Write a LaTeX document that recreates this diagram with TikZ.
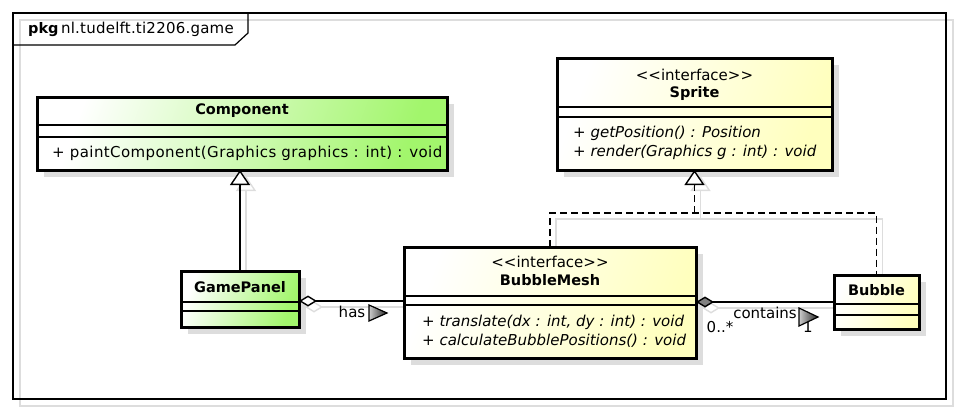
\documentclass[tikz,border=0pt]{standalone}
\usepackage{fontspec}
\setmainfont{DejaVu Sans}[Ligatures=TeXOff]
\usetikzlibrary{arrows.meta,calc}
\definecolor{umlgreen}{HTML}{A2F66C}
\definecolor{umlyellow}{HTML}{FFFFBE}
\definecolor{shadowgray}{HTML}{DDDDDD}
\definecolor{tipgray}{HTML}{808080}
\newcommand\classbox[6]{%
  \fill[shadowgray] ({#2+7},{#3+7}) rectangle ({#4+7},{#5+7});
  \node[boxstyle,#6,minimum width={#4-#2},minimum height={#5-#3}] (#1) at ({(#2+#4)/2},{(#3+#5)/2}) {};
}
\newcommand\bname[1]{{\fontsize{14.5}{19}\selectfont\bfseries #1}}
\begin{document}
\begin{tikzpicture}[x=1pt,y=-1pt,font=\fontsize{15}{19}\selectfont]
\tikzset{
  boxstyle/.style={draw=black,line width=3pt,inner sep=0pt,outer sep=0pt},
  greenfill/.style={shading=axis,top color=white,bottom color=umlgreen,shading angle=70},
  yellowfill/.style={shading=axis,top color=white,bottom color=umlyellow,shading angle=70},
  compline/.style={line width=1.3pt},
  connline/.style={line width=1.4pt},
  dashline/.style={line width=1.4pt,dash pattern=on 7pt off 4pt},
  shadowline/.style={shadowgray,line width=1.4pt},
  labtri/.style={draw=black,line width=1.2pt,left color=tipgray!40,right color=black!85},
  txt/.style={inner sep=0pt}
}
\useasboundingbox (0,0) rectangle (960,413);
% frame
\draw[shadowgray,line width=1.5pt] (20,20) rectangle (953,406);
\draw[line width=1.5pt] (13,13) rectangle (946,399);
\draw[line width=1.2pt] (13,45) -- (235,45) -- (248,33) -- (248,13);
\node[txt,anchor=west] (pkg) at (28,29) {\bname{pkg}\,\addfontfeature{LetterSpace=1.5}nl.tudelft.ti2206.game};

% coordinates for connector shadows
\coordinate (gptop) at (240,271);
\coordinate (bmtop) at (550,247);
\coordinate (bubtop) at (876.5,275);
\coordinate (rjs) at (694.5,213);
% connector shadows
\draw[shadowline,-{Triangle[open,length=15pt,width=20pt]}] ($(gptop)+(6,6)$) -- ($(240,170)+(6,6)$);
\draw[shadowline] ($(bmtop)+(6,6)$) |- ($(rjs)+(6,6)$) -| ($(bubtop)+(6,6)$);
\draw[shadowline,-{Triangle[open,length=15pt,width=20pt]}] ($(rjs)+(6,6)$) -- ($(694.5,170)+(6,6)$);
\draw[shadowline,{Diamond[open,length=18pt,width=11pt]}-] ($(299,301)+(6,6)$) -- ($(404,301)+(6,6)$);
\draw[shadowline,{Diamond[open,length=18pt,width=11pt]}-] ($(696,302)+(6,6)$) -- ($(834,302)+(6,6)$);

% classes
\classbox{comp}{37}{97}{447}{170}{greenfill}
\draw[compline] (comp.west |- 0,125) -- (comp.east |- 0,125);
\draw[compline] (comp.west |- 0,137) -- (comp.east |- 0,137);
\node[txt] (compname) at (242,111) {\bname{Component}};
\node[txt,anchor=west] (compm1) at (52,153) {\addfontfeature{LetterSpace=2.7}+ paintComponent(Graphics graphics : int) : void};

\classbox{sprite}{557}{58}{832}{170}{yellowfill}
\draw[compline] (sprite.west |- 0,107) -- (sprite.east |- 0,107);
\draw[compline] (sprite.west |- 0,117) -- (sprite.east |- 0,117);
\node[txt] (spst) at (694.5,75) {<<interface>>};
\node[txt] (spname) at (694.5,93) {\bname{Sprite}};
\node[txt,anchor=west] (spm1) at (573,133) {\itshape + getPosition() : Position};
\node[txt,anchor=west] (spm2) at (573,152) {\itshape + render(Graphics g : int) : void};

\classbox{bm}{404}{247}{696}{358}{yellowfill}
\draw[compline] (bm.west |- 0,296) -- (bm.east |- 0,296);
\draw[compline] (bm.west |- 0,305) -- (bm.east |- 0,305);
\node[txt] (bmst) at (550,262) {<<interface>>};
\node[txt] (bmname) at (550,280) {\bname{BubbleMesh}};
\node[txt,anchor=west] (bmm1) at (422,322) {\itshape + translate(dx : int, dy : int) : void};
\node[txt,anchor=west] (bmm2) at (422,341) {\itshape + calculateBubblePositions() : void};

\classbox{gp}{181}{271}{299}{327}{greenfill}
\draw[compline] (gp.west |- 0,302) -- (gp.east |- 0,302);
\draw[compline] (gp.west |- 0,311) -- (gp.east |- 0,311);
\node[txt] (gpname) at (240,287) {\bname{GamePanel}};

\classbox{bub}{834}{275}{919}{329}{yellowfill}
\draw[compline] (bub.west |- 0,304) -- (bub.east |- 0,304);
\draw[compline] (bub.west |- 0,315) -- (bub.east |- 0,315);
\node[txt] (bubname) at (876.5,290) {\bname{Bubble}};

% generalization
\draw[connline,-{Triangle[open,fill=white,length=15pt,width=20pt]}] (gp.north -| 240,0) -- (comp.south -| 240,0);
% realization
\coordinate (rj) at (sprite.south |- 0,213);
\draw[dashline] (bm.north) |- (rj) -| (bub.north);
\draw[dashline,-{Triangle[open,fill=white,length=15pt,width=20pt]}] (rj) -- (sprite.south);
% aggregation
\draw[connline,{Diamond[fill=white,length=18pt,width=11pt]}-] (gp.east |- 0,301) -- (bm.west |- 0,301);
\node[txt] (haslbl) at (352,312) {has};
\draw[labtri] (369,305) -- (387,313) -- (369,321) -- cycle;
% composition
\draw[connline,{Diamond[fill=tipgray,length=18pt,width=11pt]}-] (bm.east |- 0,302) -- (bub.west |- 0,302);
\node[txt] (contlbl) at (765,313) {contains};
\node[txt] (onelbl) at (808,327) {1};
\draw[labtri] (799,308) -- (818,317) -- (799,326) -- cycle;
\node[txt] (multlbl) at (720,327) {0..*};
\end{tikzpicture}
\end{document}
